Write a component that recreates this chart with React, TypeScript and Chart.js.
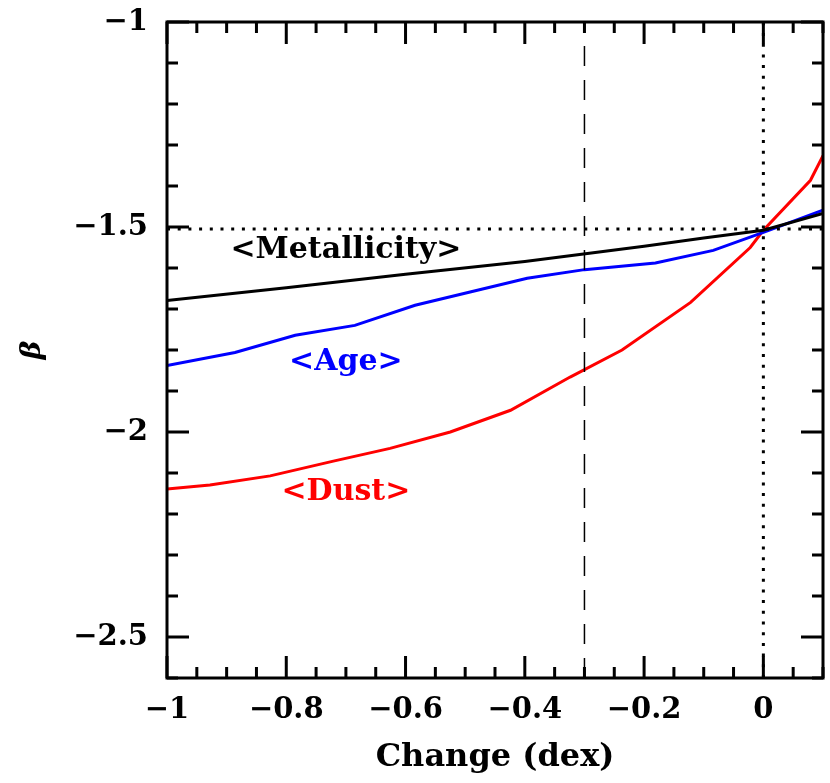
import React, { useEffect, useRef } from "react";
import { Chart, registerables } from "chart.js";

Chart.register(...registerables);

// ---- data ----
const metalX = [-1, -0.8, -0.6, -0.4, -0.2, -0.1, 0, 0.1];
const metalY = [-1.679, -1.648, -1.615, -1.584, -1.547, -1.527, -1.508, -1.467];

const ageX = [-1, -0.886, -0.785, -0.685, -0.584, -0.49, -0.396, -0.3, -0.181, -0.084, 0, 0.1];
const ageY = [-1.838, -1.806, -1.764, -1.74, -1.691, -1.658, -1.625, -1.604, -1.588, -1.557, -1.513, -1.459];

const dustX = [-1, -0.928, -0.827, -0.721, -0.626, -0.525, -0.424, -0.324, -0.237, -0.122, -0.022, 0, 0.079, 0.1];
const dustY = [-2.139, -2.129, -2.107, -2.071, -2.04, -2.0, -1.947, -1.866, -1.8, -1.684, -1.55, -1.508, -1.386, -1.326];

const xRange = [-1, 0.1];
const yRange = [-2.6, -1];
const refY = -1.505;
const refX = 0;
const dashX = -0.3;

const labels = [
  { text: "<Metallicity>", x: -0.70, y: -1.557, color: "#000000" },
  { text: "<Age>", x: -0.70, y: -1.83, color: "#0000ff" },
  { text: "<Dust>", x: -0.70, y: -2.147, color: "#ff0000" },
];

const FONT = "'DejaVu Serif', serif";

const pts = (xs: number[], ys: number[]) => xs.map((x, i) => ({ x, y: ys[i] }));

const fmt = (v: number) => {
  const s = Math.abs(v).toString();
  return v < 0 ? "\u2212" + s : s;
};

const isMajorX = (v: number) => Math.round(v * 100) % 20 === 0;
const isMajorY = (v: number) => Math.round(v * 10) % 5 === 0;

const framePlugin = {
  id: "frame",
  afterDatasetsDraw(chart: any) {
    const { ctx, chartArea: a, scales } = chart;
    ctx.save();
    // text labels
    ctx.textAlign = "center";
    ctx.textBaseline = "middle";
    ctx.font = `bold 30px ${FONT}`;
    for (const l of labels) {
      ctx.fillStyle = l.color;
      ctx.fillText(l.text, scales.x.getPixelForValue(l.x), scales.y.getPixelForValue(l.y));
    }
    ctx.strokeStyle = "#000";
    ctx.lineWidth = 3;
    ctx.lineCap = "butt";
    ctx.strokeRect(a.left, a.top, a.right - a.left, a.bottom - a.top);
    ctx.beginPath();
    for (const t of scales.x.ticks) {
      const px = scales.x.getPixelForValue(t.value);
      const len = isMajorX(t.value) ? 22 : 11;
      ctx.moveTo(px, a.bottom);
      ctx.lineTo(px, a.bottom - len);
      ctx.moveTo(px, a.top);
      ctx.lineTo(px, a.top + len);
    }
    for (const t of scales.y.ticks) {
      const py = scales.y.getPixelForValue(t.value);
      const len = isMajorY(t.value) ? 22 : 11;
      ctx.moveTo(a.left, py);
      ctx.lineTo(a.left + len, py);
      ctx.moveTo(a.right, py);
      ctx.lineTo(a.right - len, py);
    }
    ctx.stroke();
    ctx.restore();
  },
};

export default function App() {
  const ref = useRef<HTMLCanvasElement | null>(null);
  useEffect(() => {
    if (!ref.current) return;
    const lineDs = (data: any[], color: string, width: number, dash: number[] = []) => ({
      data,
      borderColor: color,
      backgroundColor: color,
      borderWidth: width,
      borderDash: dash,
      pointRadius: 0,
      showLine: true,
      fill: false,
      tension: 0,
    });
    const chart = new Chart(ref.current, {
      type: "scatter",
      data: {
        datasets: [
          lineDs([{ x: xRange[0], y: refY }, { x: xRange[1], y: refY }], "#000", 3, [3, 7.7]),
          lineDs([{ x: refX, y: yRange[0] }, { x: refX, y: yRange[1] }], "#000", 3, [3, 7.7]),
          lineDs([{ x: dashX, y: yRange[0] }, { x: dashX, y: yRange[1] }], "#000", 1.5, [20, 14]),
          lineDs(pts(metalX, metalY), "#000000", 3),
          lineDs(pts(ageX, ageY), "#0000ff", 3),
          lineDs(pts(dustX, dustY), "#ff0000", 3),
        ],
      },
      options: {
        responsive: false,
        animation: false,
        devicePixelRatio: 1,
        layout: { padding: { top: 22, right: 7, left: 0, bottom: 0 } },
        plugins: { legend: { display: false }, tooltip: { enabled: false } },
        scales: {
          x: {
            type: "linear",
            min: xRange[0],
            max: xRange[1],
            grid: { display: false, drawTicks: false },
            border: { display: false },
            ticks: {
              stepSize: 0.05,
              maxTicksLimit: 100,
              autoSkip: false,
              maxRotation: 0,
              padding: 15,
              color: "#000",
              font: { family: FONT, size: 29, weight: "bold" },
              callback: (v: any) => (isMajorX(Number(v)) ? fmt(Math.round(Number(v) * 10) / 10) : ""),
            },
            title: {
              display: true,
              text: "Change (dex)",
              color: "#000",
              font: { family: FONT, size: 32, weight: "bold" },
              padding: { top: 0, bottom: 6 },
            },
            afterFit: (s: any) => {
              s.height = 105;
              s.paddingLeft = 0;
              s.paddingRight = 0;
            },
          },
          y: {
            type: "linear",
            min: yRange[0],
            max: yRange[1],
            grid: { display: false, drawTicks: false },
            border: { display: false },
            ticks: {
              stepSize: 0.1,
              maxTicksLimit: 100,
              autoSkip: false,
              padding: 19,
              color: "#000",
              font: { family: FONT, size: 29, weight: "bold" },
              callback: (v: any) => (isMajorY(Number(v)) ? fmt(Math.round(Number(v) * 10) / 10) : ""),
            },
            title: {
              display: true,
              text: "\u03b2",
              color: "#000",
              font: { family: FONT, size: 28, weight: "bold", style: "italic" },
              padding: { top: 16, bottom: 0 },
            },
            afterFit: (s: any) => {
              s.width = 167;
              s.paddingTop = 0;
              s.paddingBottom = 0;
            },
          },
        },
      },
      plugins: [framePlugin],
    } as any);
    return () => chart.destroy();
  }, []);
  return (
    <div style={{ position: "fixed", left: 0, top: 0, width: 830, height: 783, background: "#fff" }}>
      <canvas ref={ref} width={830} height={783} style={{ display: "block" }} />
    </div>
  );
}
